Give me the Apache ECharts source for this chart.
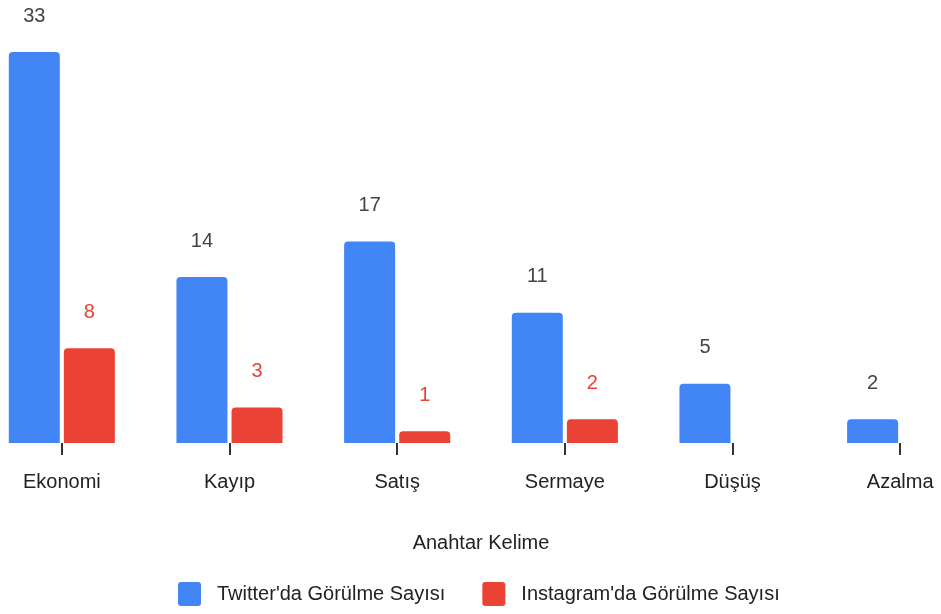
<!DOCTYPE html>
<html>
<head>
<meta charset="utf-8">
<script src="https://cdn.jsdelivr.net/npm/echarts@6/dist/echarts.min.js"></script>
<style>
    html, body { margin: 0; padding: 0; background: #fff; }
    #chart { width: 941px; height: 614px; }
</style>
</head>
<body>
<div id="chart"></div>
<script>
// data
var keywords = ['Ekonomi', 'Kayıp', 'Satış', 'Sermaye', 'Düşüş', 'Azalma'];
var twitterCounts = [33, 14, 17, 11, 5, 2];
var instagramCounts = [8, 3, 1, 2, '-', '-'];
var seriesNames = ["Twitter'da Görülme Sayısı", "Instagram'da Görülme Sayısı"];

var chart = echarts.init(document.getElementById('chart'));

var font = 'Liberation Sans, Arial, sans-serif';

var option = {
    animation: false,
    textStyle: { fontFamily: font },
    legend: {
        bottom: 3,
        left: 173,
        itemWidth: 23,
        itemHeight: 24,
        itemGap: 37,
        icon: 'path://M3,0 H20 Q23,0 23,3 V21 Q23,24 20,24 H3 Q0,24 0,21 V3 Q0,0 3,0 Z',
        textStyle: { fontSize: 20, color: '#222', fontFamily: font, padding: [0, 0, 0, 11] },
        data: seriesNames
    },
    grid: {
        left: -22,
        width: 1006,
        top: 52,
        bottom: 171,
        outerBoundsMode: 'none',
        containLabel: false
    },
    xAxis: {
        type: 'category',
        data: keywords,
        name: 'Anahtar Kelime',
        nameLocation: 'middle',
        nameGap: 90,
        nameTextStyle: { fontSize: 20, color: '#222', fontFamily: font },
        axisLine: { show: false },
        axisTick: { show: true, alignWithLabel: true, length: 12, lineStyle: { color: '#333', width: 2 } },
        axisLabel: { fontSize: 20, color: '#222', margin: 29, fontFamily: font }
    },
    yAxis: {
        type: 'value',
        min: 0,
        max: 33,
        show: false,
        splitLine: { show: false }
    },
    series: [
        {
            name: seriesNames[0],
            type: 'bar',
            data: twitterCounts,
            barWidth: 51,
            barGap: '8%',
            itemStyle: { color: '#4285f4', borderRadius: [4, 4, 0, 0] },
            label: { show: true, position: 'top', distance: 26, fontSize: 20, color: '#444', fontFamily: font }
        },
        {
            name: seriesNames[1],
            type: 'bar',
            data: instagramCounts,
            barWidth: 51,
            barGap: '8%',
            itemStyle: { color: '#ea4335', borderRadius: [4, 4, 0, 0] },
            label: { show: true, position: 'top', distance: 26, fontSize: 20, color: '#e94235', fontFamily: font }
        }
    ]
};

chart.setOption(option);
</script>
</body>
</html>
